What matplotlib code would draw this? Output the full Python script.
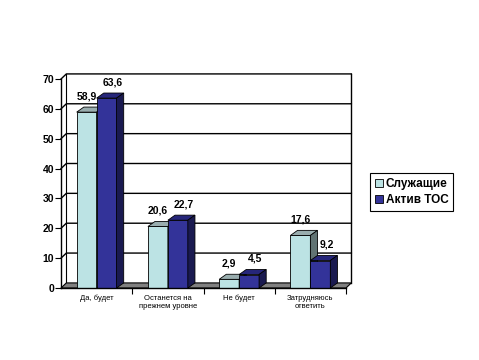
import matplotlib
matplotlib.use('Agg')
import matplotlib.pyplot as plt
from matplotlib.patches import Polygon

plt.rcParams['font.family'] = ['Liberation Sans', 'DejaVu Sans']

categories = ['Да, будет', 'Останется на\nпрежнем уровне', 'Не будет', 'Затрудняюсь\nответить']
employees = [58.9, 20.6, 2.9, 17.6]
activists = [63.6, 22.7, 4.5, 9.2]
series_names = ['Служащие', 'Актив ТОС']

# colours: front, top, side
c_light = ('#BCE3E4', '#99ADAE', '#617373')
c_dark = ('#333399', '#26267A', '#1A1A50')

fig = plt.figure(figsize=(4.79, 3.6), dpi=100)
ax = fig.add_axes([61 / 479, 72 / 360, 285 / 479, 209 / 360])
ax.set_xlim(-0.5, 3.5)
ax.set_ylim(0, 70)

# depth offsets in data units
wdx, wdy = 0.075, 1.7   # walls
bdx, bdy = 0.10, 1.7    # bars

# ---- back wall gridlines and left wall ----
for y in range(10, 71, 10):
    ax.plot([-0.5, -0.5 + wdx, 3.5 + wdx], [y, y + wdy, y + wdy],
            color='black', lw=1.0, clip_on=False, zorder=1)
ax.plot([-0.5 + wdx, -0.5 + wdx], [wdy, 70 + wdy], color='black', lw=0.8, clip_on=False, zorder=1)
ax.plot([3.5 + wdx, 3.5 + wdx], [wdy, 70 + wdy], color='black', lw=1.0, clip_on=False, zorder=1)

# floor
floor = Polygon([(-0.5, 0), (3.5, 0), (3.5 + wdx, wdy), (-0.5 + wdx, wdy)],
                closed=True, facecolor='#808080', edgecolor='black', lw=0.8,
                clip_on=False, zorder=2)
ax.add_patch(floor)

# ---- bars ----
w = 0.28
x = list(range(len(categories)))


def bar3d(xs, vals, cols, z, lab_dx):
    bars = ax.bar(xs, vals, width=w, color=cols[0], edgecolor='black', lw=0.6,
                  zorder=z, clip_on=False)
    for b in bars:
        x0, x1 = b.get_x(), b.get_x() + b.get_width()
        h = b.get_height()
        top = Polygon([(x0, h), (x1, h), (x1 + bdx, h + bdy), (x0 + bdx, h + bdy)],
                      closed=True, facecolor=cols[1], edgecolor='black', lw=0.6,
                      zorder=z, clip_on=False)
        side = Polygon([(x1, 0), (x1 + bdx, bdy), (x1 + bdx, h + bdy), (x1, h)],
                       closed=True, facecolor=cols[2], edgecolor='black', lw=0.6,
                       zorder=z, clip_on=False)
        ax.add_patch(top)
        ax.add_patch(side)
        ax.annotate(f'{h:.1f}'.replace('.', ','), (x0 + w / 2, h),
                    xytext=(lab_dx, 16), textcoords='offset pixels', ha='center',
                    va='center', fontsize=7.5, fontweight='bold', zorder=10)
    return bars


b1 = bar3d([i - w / 2 for i in x], employees, c_light, 3, 0)
b2 = bar3d([i + w / 2 for i in x], activists, c_dark, 4, 6)

# ---- axes ----
for s in ['top', 'right']:
    ax.spines[s].set_visible(False)
ax.spines['left'].set_linewidth(1.0)
ax.spines['bottom'].set_linewidth(1.0)
ax.spines['left'].set_zorder(6)
ax.spines['bottom'].set_zorder(6)
ax.set_yticks(range(0, 71, 10))
ax.tick_params(axis='y', direction='out', length=4, width=0.8, labelsize=7.5, pad=1)
for t in ax.get_yticklabels():
    t.set_fontweight('bold')
ax.set_xticks(x)
ax.set_xticklabels(categories, fontsize=5.5, linespacing=1.3)
ax.tick_params(axis='x', length=0, pad=5)
ax.set_xticks([0.5, 1.5, 2.5, 3.5], minor=True)
ax.tick_params(axis='x', which='minor', direction='out', length=4, width=0.8)

ax.legend([b1, b2], series_names, loc='center left', bbox_to_anchor=(370 / 479, 0.467),
          bbox_transform=fig.transFigure, frameon=True, fancybox=False,
          edgecolor='black', framealpha=1, handlelength=0.7, handleheight=0.7,
          handletextpad=0.25, borderpad=0.4, labelspacing=0.35, borderaxespad=0,
          prop={'size': 8.5, 'weight': 'bold'})
leg = ax.get_legend()
leg.get_frame().set_linewidth(0.8)

fig.savefig('out.png', dpi=100)
